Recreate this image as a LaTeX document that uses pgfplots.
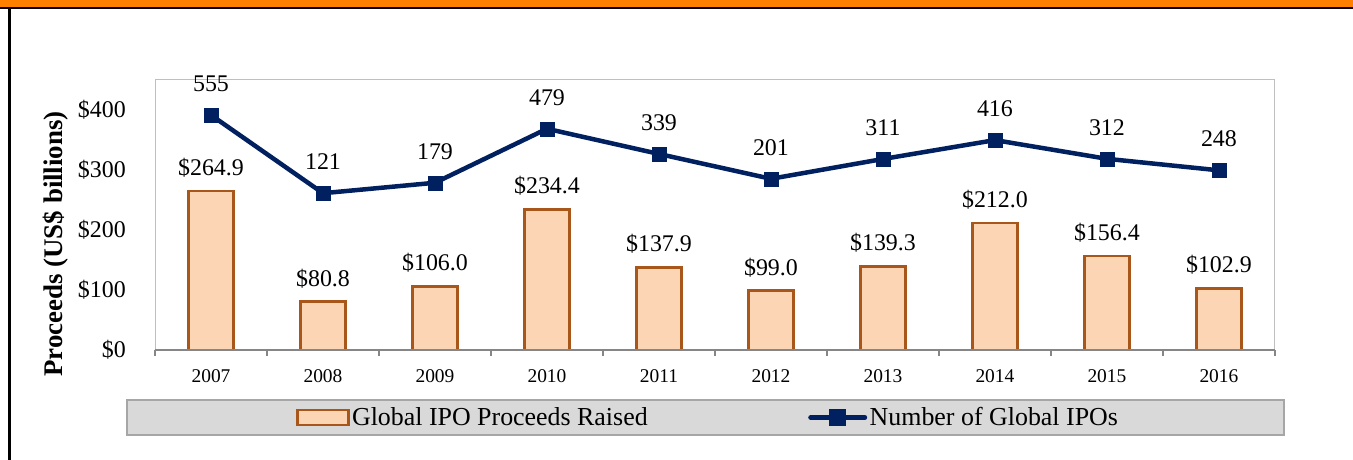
\documentclass[border=0pt]{standalone}
\usepackage{pgfplots}
\pgfplotsset{compat=1.18}
\usepackage{fontspec}
\setmainfont{Liberation Serif}
\definecolor{barfill}{HTML}{FCD5B4}
\definecolor{barline}{HTML}{A8561A}
\definecolor{navy}{HTML}{002060}
\definecolor{hdr}{HTML}{FF8000}
\definecolor{framec}{HTML}{BFBFBF}
\definecolor{axisg}{HTML}{868686}
\definecolor{legfill}{HTML}{D9D9D9}
\definecolor{legdraw}{HTML}{A6A6A6}
\pgfplotsset{/pgf/number format/assume math mode=true,
  barleg/.style={legend image code/.code={\draw[##1] (0bp,-7.5bp) rectangle (51bp,7.5bp);}},
  lineleg/.style={legend image code/.code={\draw[##1, mark=none] (0bp,0bp) -- (54bp,0bp); \draw[##1, draw=none] plot coordinates {(27bp,0bp)};}},
}
\begin{document}
\begin{tikzpicture}[x=1bp,y=1bp]
\path[use as bounding box] (0,0) rectangle (1353,460);
\fill[hdr] (0,453.3) rectangle (1353,460);
\draw[black,line width=2.3bp] (0,452.15) -- (1353,452.15);
\draw[black,line width=2.7bp] (9.7,0) -- (9.7,453.3);
\draw[legdraw, fill=legfill, line width=1.5bp] (127,25) rectangle (1284,60);
\node[rotate=90, font=\bfseries\fontsize{27}{32}\selectfont] at (56,216) {Proceeds (US\$ billions)};

\begin{axis}[
  at={(155bp,110bp)}, anchor=south west,
  width=1120bp, height=270bp, scale only axis,
  clip=false,
  xmin=-0.5, xmax=9.5, ymin=0, ymax=450,
  ybar, bar width=45bp,
  axis line style={framec, line width=1bp},
  xtick={0,1,2,3,4,5,6,7,8,9},
  xticklabels={2007,2008,2009,2010,2011,2012,2013,2014,2015,2016},
  minor xtick={-0.5,0.5,1.5,2.5,3.5,4.5,5.5,6.5,7.5,8.5,9.5},
  xtick pos=lower, ytick pos=left,
  tick align=outside,
  major tick length=0pt, minor tick length=6bp,
  tick style={axisg, line width=1.5bp},
  ytick={0,100,200,300,400},
  yticklabels={\$0,\$100,\$200,\$300,\$400},
  xticklabel style={font=\fontsize{19.5}{23}\selectfont, anchor=base, inner sep=0pt, yshift=-33bp},
  yticklabel style={font=\fontsize{24}{28}\selectfont, anchor=east, inner sep=0pt, xshift=-29bp},
  nodes near coords={\$\pgfmathprintnumber[fixed,fixed zerofill,precision=1]{\pgfplotspointmeta}},
  every node near coord/.append style={font=\fontsize{24}{28}\selectfont, anchor=base, inner sep=0pt, yshift=15.5bp, text=black},
  legend columns=2,
  legend style={at={(0.494,-0.25)}, anchor=center, draw=none, fill=none,
    font=\fontsize{26}{31}\selectfont,
    nodes={inner sep=2.5bp},
    /tikz/every even column/.append style={column sep=158bp}},
  after end axis/.code={\draw[axisg, line width=2.5bp] (rel axis cs:0,0) -- (rel axis cs:1,0);},
]
\addplot[fill=barfill, draw=barline, line width=2.5bp, barleg]
  coordinates {(0,264.9) (1,80.8) (2,106.0) (3,234.4) (4,137.9) (5,99.0) (6,139.3) (7,212.0) (8,156.4) (9,102.9)};
\addlegendentry{Global IPO Proceeds Raised}
\addlegendimage{navy, line width=5bp, line cap=round, mark=square*, mark size=8bp, mark options={line width=0.5bp}, lineleg}
\addlegendentry{Number of Global IPOs}
\end{axis}

\begin{axis}[
  at={(155bp,110bp)}, anchor=south west,
  width=1120bp, height=270bp, scale only axis,
  clip=false, hide axis,
  xmin=-0.5, xmax=9.5, ymin=-750, ymax=750,
  nodes near coords={\pgfmathprintnumber{\pgfplotspointmeta}},
  every node near coord/.append style={font=\fontsize{24}{28}\selectfont, anchor=base, inner sep=0pt, yshift=23.5bp, text=black},
]
\addplot[navy, line width=4.5bp, mark=square*, mark size=7bp, mark options={line width=0.5bp}]
  coordinates {(0,555) (1,121) (2,179) (3,479) (4,339) (5,201) (6,311) (7,416) (8,312) (9,248)};
\end{axis}
\end{tikzpicture}
\end{document}
